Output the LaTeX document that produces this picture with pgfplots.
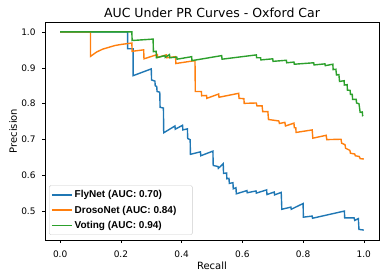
\documentclass[border=0pt]{standalone}
\usepackage{pgfplots}
\pgfplotsset{compat=1.18}
\usepackage{fontspec}
\setmainfont{DejaVu Sans}
\newfontfamily\legfont{Liberation Sans}
\definecolor{tabblue}{HTML}{1F77B4}
\definecolor{taborange}{HTML}{FF7F0E}
\definecolor{tabgreen}{HTML}{2CA02C}
\begin{document}
\begin{tikzpicture}
\begin{axis}[
  scale only axis, width=334pt, height=218pt,
  xmin=-0.05, xmax=1.05, ymin=0.4204, ymax=1.0276,
  xtick={0,0.2,0.4,0.6,0.8,1.0},
  ytick={0.5,0.6,0.7,0.8,0.9,1.0},
  xticklabels={0.0,0.2,0.4,0.6,0.8,1.0},
  yticklabels={0.5,0.6,0.7,0.8,0.9,1.0},
  tick label style={font=\fontsize{9}{10}\selectfont},
  xticklabel style={anchor=base, yshift=-14.3pt},
  yticklabel style={anchor=east, xshift=-3pt},
  tick align=outside, major tick length=2.9pt, tick pos=left,
  tick style={black, line width=0.6pt},
  axis line style={line width=0.67pt},
  xlabel={Recall},
  label style={font=\fontsize{10}{12}\selectfont},
  xlabel style={at={(axis description cs:0.5,0)}, anchor=base, yshift=-30pt},
  legend style={at={(axis description cs:0.012,0.023)}, anchor=south west,
    draw=black!20, rounded corners=1.5pt, fill=white,
    font=\legfont\bfseries\fontsize{10}{11}\selectfont,
    inner xsep=2pt, inner ysep=3pt, row sep=2.5pt},
  legend cell align=left,
  legend image code/.code={\draw[#1, line width=1.5pt] (0pt,0pt) -- (20pt,0pt);},
  every axis plot/.append style={line width=1.4pt, no marks},
]
\addplot[tabblue] coordinates {
(0,1) (0.222,1) (0.222,0.953) (0.240,0.953) (0.240,0.878) (0.300,0.897)
(0.301,0.866) (0.312,0.863) (0.313,0.850) (0.318,0.848) (0.319,0.834)
(0.328,0.832) (0.329,0.790) (0.340,0.788) (0.341,0.719) (0.378,0.738)
(0.379,0.729) (0.403,0.740) (0.404,0.727) (0.419,0.730) (0.420,0.703)
(0.428,0.700) (0.429,0.659) (0.462,0.666) (0.463,0.655) (0.503,0.668)
(0.504,0.628) (0.520,0.625) (0.521,0.620) (0.537,0.633) (0.538,0.606)
(0.548,0.607) (0.549,0.591) (0.556,0.592) (0.557,0.578) (0.569,0.580)
(0.570,0.563) (0.579,0.566) (0.580,0.549) (0.615,0.558) (0.616,0.552)
(0.645,0.557) (0.646,0.551) (0.680,0.560) (0.681,0.547) (0.705,0.554)
(0.706,0.546) (0.728,0.553) (0.730,0.506) (0.760,0.512) (0.761,0.506)
(0.800,0.522) (0.801,0.484) (0.830,0.487) (0.831,0.481) (0.936,0.501)
(0.937,0.482) (0.968,0.482) (0.970,0.475) (0.982,0.480) (0.984,0.450)
(1.0,0.448)
};
\addlegendentry{FlyNet (AUC: 0.70)}
\addplot[taborange] coordinates {
(0,1) (0.100,1) (0.100,0.932) (0.12,0.944) (0.14,0.952) (0.16,0.957)
(0.18,0.962) (0.20,0.965) (0.236,0.969) (0.237,0.946) (0.275,0.950)
(0.276,0.925) (0.320,0.937) (0.321,0.929) (0.350,0.936) (0.351,0.928)
(0.380,0.931) (0.381,0.912) (0.444,0.920) (0.445,0.834) (0.465,0.834)
(0.466,0.822) (0.482,0.823) (0.483,0.815) (0.522,0.827) (0.523,0.818)
(0.588,0.829) (0.589,0.815) (0.605,0.814) (0.606,0.801) (0.646,0.802)
(0.648,0.794) (0.665,0.794) (0.667,0.778) (0.684,0.778) (0.686,0.756)
(0.720,0.752) (0.722,0.745) (0.740,0.748) (0.742,0.738) (0.770,0.746)
(0.771,0.733) (0.776,0.733) (0.777,0.720) (0.830,0.727) (0.832,0.704)
(0.876,0.712) (0.878,0.700) (0.925,0.701) (0.927,0.690) (0.938,0.686)
(0.940,0.676) (0.954,0.670) (0.956,0.662) (0.970,0.660) (0.972,0.655)
(0.985,0.653) (0.988,0.647) (1.0,0.646)
};
\addlegendentry{DrosoNet (AUC: 0.84)\hspace*{12pt}}
\addplot[tabgreen] coordinates {
(0,1) (0.236,1) (0.237,0.976) (0.306,0.980) (0.307,0.945) (0.316,0.946)
(0.317,0.928) (0.345,0.934) (0.346,0.929) (0.360,0.937) (0.361,0.928)
(0.384,0.930) (0.385,0.924) (0.433,0.931) (0.434,0.920) (0.532,0.934)
(0.533,0.924) (0.646,0.936) (0.647,0.928) (0.660,0.928) (0.661,0.922)
(0.700,0.925) (0.701,0.918) (0.745,0.921) (0.746,0.914) (0.770,0.916)
(0.771,0.910) (0.835,0.914) (0.836,0.908) (0.872,0.911) (0.873,0.906)
(0.898,0.910) (0.899,0.895) (0.908,0.896) (0.910,0.880) (0.918,0.881)
(0.920,0.862) (0.935,0.864) (0.936,0.852) (0.945,0.853) (0.946,0.838)
(0.955,0.837) (0.956,0.826) (0.962,0.826) (0.963,0.812) (0.975,0.812)
(0.976,0.802) (0.984,0.800) (0.988,0.776) (0.995,0.777) (0.996,0.767)
(0.998,0.768)
};
\addlegendentry{Voting (AUC: 0.94)}
\end{axis}
\node[font=\fontsize{12.5}{14}\selectfont, anchor=base] at ([yshift=4.7pt]current axis.north) {AUC Under PR Curves - Oxford Car};
\node[font=\fontsize{10}{12}\selectfont, rotate=90, anchor=base] at ([xshift=-28pt]current axis.west) {Precision};
\path ([xshift=-45pt,yshift=-38pt]current axis.south west) rectangle ([xshift=7pt,yshift=22pt]current axis.north east);
\end{tikzpicture}
\end{document}
